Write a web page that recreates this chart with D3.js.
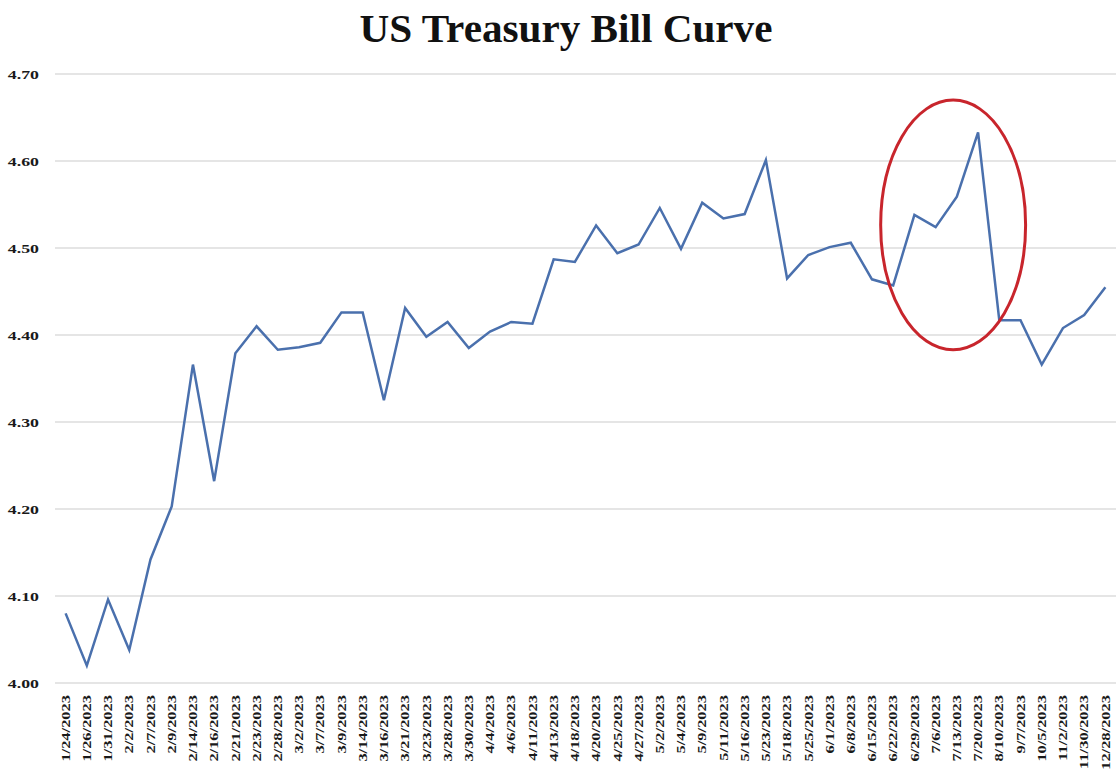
<!DOCTYPE html>
<html>
<head>
<meta charset="utf-8">
<script src="https://cdn.jsdelivr.net/npm/d3@7"></script>
<style>
  html, body { margin: 0; padding: 0; background: #fff; }
  svg { display: block; }
  text { font-family: "Liberation Serif", "Times New Roman", serif; font-weight: bold; fill: #1a1a1a; }
</style>
</head>
<body>
<svg id="chart" width="1118" height="770"></svg>
<script>
// Auction dates (x categories)
const dates = [
  "1/24/2023","1/26/2023","1/31/2023","2/2/2023","2/7/2023","2/9/2023","2/14/2023","2/16/2023","2/21/2023","2/23/2023",
  "2/28/2023","3/2/2023","3/7/2023","3/9/2023","3/14/2023","3/16/2023","3/21/2023","3/23/2023","3/28/2023","3/30/2023",
  "4/4/2023","4/6/2023","4/11/2023","4/13/2023","4/18/2023","4/20/2023","4/25/2023","4/27/2023","5/2/2023","5/4/2023",
  "5/9/2023","5/11/2023","5/16/2023","5/23/2023","5/18/2023","5/25/2023","6/1/2023","6/8/2023","6/15/2023","6/22/2023",
  "6/29/2023","7/6/2023","7/13/2023","7/20/2023","8/10/2023","9/7/2023","10/5/2023","11/2/2023","11/30/2023","12/28/2023"
];

// Yield (%) for each date
const yields = [
  4.080, 4.020, 4.096, 4.038, 4.142, 4.203, 4.366, 4.232, 4.379, 4.410,
  4.383, 4.386, 4.391, 4.426, 4.426, 4.325, 4.431, 4.398, 4.415, 4.385,
  4.404, 4.415, 4.413, 4.487, 4.484, 4.526, 4.494, 4.504, 4.546, 4.499,
  4.552, 4.534, 4.539, 4.601, 4.465, 4.492, 4.501, 4.506, 4.464, 4.457,
  4.538, 4.524, 4.559, 4.633, 4.417, 4.417, 4.366, 4.408, 4.423, 4.455
];

// Y axis ticks
const yTicks = [4.00, 4.10, 4.20, 4.30, 4.40, 4.50, 4.60, 4.70];

// Highlight ellipse extent: category index range and yield range
const ringIndex = [38.41, 45.24];
const ringYield = [4.383, 4.670];

const title = "US Treasury Bill Curve";

const svg = d3.select("#chart");
const stretch = 1.37;

const x = d3.scaleBand().domain(dates).range([55, 1116]).padding(0);
const y = d3.scaleLinear().domain([4.0, 4.7]).range([683, 74]);
const cx = d => x(d) + x.bandwidth() / 2;
const idx = i => x.range()[0] + x.bandwidth() * (i + 0.5);

// Title
svg.append("text")
  .attr("x", 566)
  .attr("y", 42)
  .attr("text-anchor", "middle")
  .attr("font-size", 41)
  .attr("textLength", 413)
  .attr("lengthAdjust", "spacingAndGlyphs")
  .style("fill", "#111")
  .text(title);

// Horizontal gridlines
svg.append("g")
  .selectAll("line")
  .data(yTicks)
  .join("line")
  .attr("x1", x.range()[0])
  .attr("x2", x.range()[1])
  .attr("y1", d => y(d))
  .attr("y2", d => y(d))
  .attr("stroke", "#dcdcdc")
  .attr("stroke-width", 1.3);

// Y axis labels
const yAxis = svg.append("g")
  .attr("transform", "translate(39,0)")
  .call(d3.axisLeft(y).tickValues(yTicks).tickFormat(d3.format(".2f")).tickSize(0).tickPadding(0));
yAxis.select(".domain").remove();
yAxis.selectAll("text")
  .attr("x", 0)
  .attr("dy", "0.35em")
  .attr("font-size", 13)
  .attr("font-family", null)
  .attr("transform", `scale(${stretch},1)`)
  .attr("text-anchor", "end");

// X axis labels, vertical
const xAxis = svg.append("g")
  .attr("transform", `translate(0,${y(4.0)})`)
  .call(d3.axisBottom(x).tickSize(0).tickPadding(0));
xAxis.select(".domain").remove();
xAxis.selectAll("text")
  .attr("x", 0)
  .attr("y", 0)
  .attr("dy", "0.35em")
  .attr("font-size", 12)
  .attr("font-family", null)
  .attr("text-anchor", "end")
  .attr("transform", `translate(0,12) rotate(-90) scale(${stretch},1)`);

// Yield line
const line = d3.line()
  .x((d, i) => cx(dates[i]))
  .y(d => y(d));

svg.append("path")
  .datum(yields)
  .attr("fill", "none")
  .attr("stroke", "#4a70ad")
  .attr("stroke-width", 2.5)
  .attr("stroke-linejoin", "miter")
  .attr("d", line);

// Highlight ring
const ex0 = idx(ringIndex[0]), ex1 = idx(ringIndex[1]);
const ey0 = y(ringYield[1]), ey1 = y(ringYield[0]);
svg.append("ellipse")
  .attr("cx", (ex0 + ex1) / 2)
  .attr("cy", (ey0 + ey1) / 2)
  .attr("rx", (ex1 - ex0) / 2)
  .attr("ry", (ey1 - ey0) / 2)
  .attr("fill", "none")
  .attr("stroke", "#c8252c")
  .attr("stroke-width", 3);
</script>
</body>
</html>
